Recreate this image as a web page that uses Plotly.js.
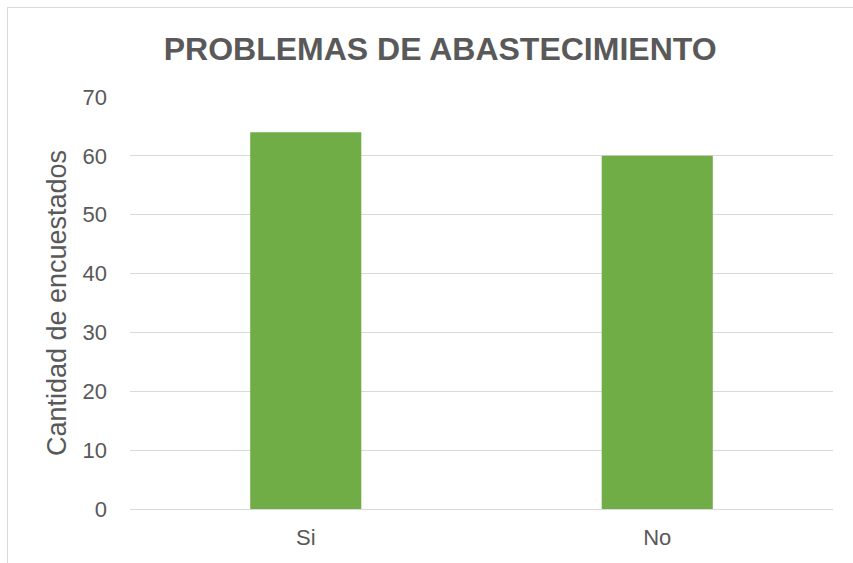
<!DOCTYPE html>
<html>
<head>
<meta charset="utf-8">
<script src="https://cdn.plot.ly/plotly-3.0.1.min.js"></script>
<style>
html,body{margin:0;padding:0;background:#fff;overflow:hidden;}
#frame{position:absolute;left:7px;top:7px;width:900px;height:600px;border:1px solid #d9d9d9;box-sizing:border-box;}
#chart{position:absolute;left:0;top:0;width:853px;height:563px;}
</style>
</head>
<body>
<div id="frame"></div>
<div id="chart"></div>
<script>
const categories = ["Si", "No"];
const values = [64, 60];
const tickValues = [0, 10, 20, 30, 40, 50, 60, 70];

const trace = {
  type: "bar",
  x: categories,
  y: values,
  marker: {color: "#70ad47"},
  hoverinfo: "x+y"
};

const layout = {
  width: 853,
  height: 563,
  margin: {l: 130, r: 20, t: 97, b: 54},
  paper_bgcolor: "rgba(0,0,0,0)",
  plot_bgcolor: "rgba(0,0,0,0)",
  bargap: 0.684,
  showlegend: false,
  font: {family: "Liberation Sans, Arial, sans-serif", color: "#595959"},
  title: {
    text: "<b>PROBLEMAS DE ABASTECIMIENTO</b>",
    font: {size: 32, color: "#595959", family: "Liberation Sans, Arial, sans-serif"},
    x: 0.516, xref: "container", xanchor: "center",
    y: 0.913, yref: "container", yanchor: "middle"
  },
  xaxis: {
    type: "category",
    showgrid: false,
    showline: true,
    linecolor: "#d9d9d9",
    linewidth: 1,
    ticks: "",
    tickfont: {size: 22, color: "#595959"},
    ticklabelstandoff: 9
  },
  yaxis: {
    range: [0, 70],
    tickvals: tickValues,
    showgrid: true,
    gridcolor: "#d9d9d9",
    gridwidth: 1,
    zeroline: false,
    showline: false,
    ticks: "",
    tickfont: {size: 22, color: "#595959"},
    ticklabelstandoff: 22,
    title: {text: "Cantidad de encuestados", font: {size: 27, color: "#595959"}, standoff: 8}
  }
};

Plotly.newPlot("chart", [trace], layout, {displayModeBar: false, staticPlot: true});
</script>
</body>
</html>
